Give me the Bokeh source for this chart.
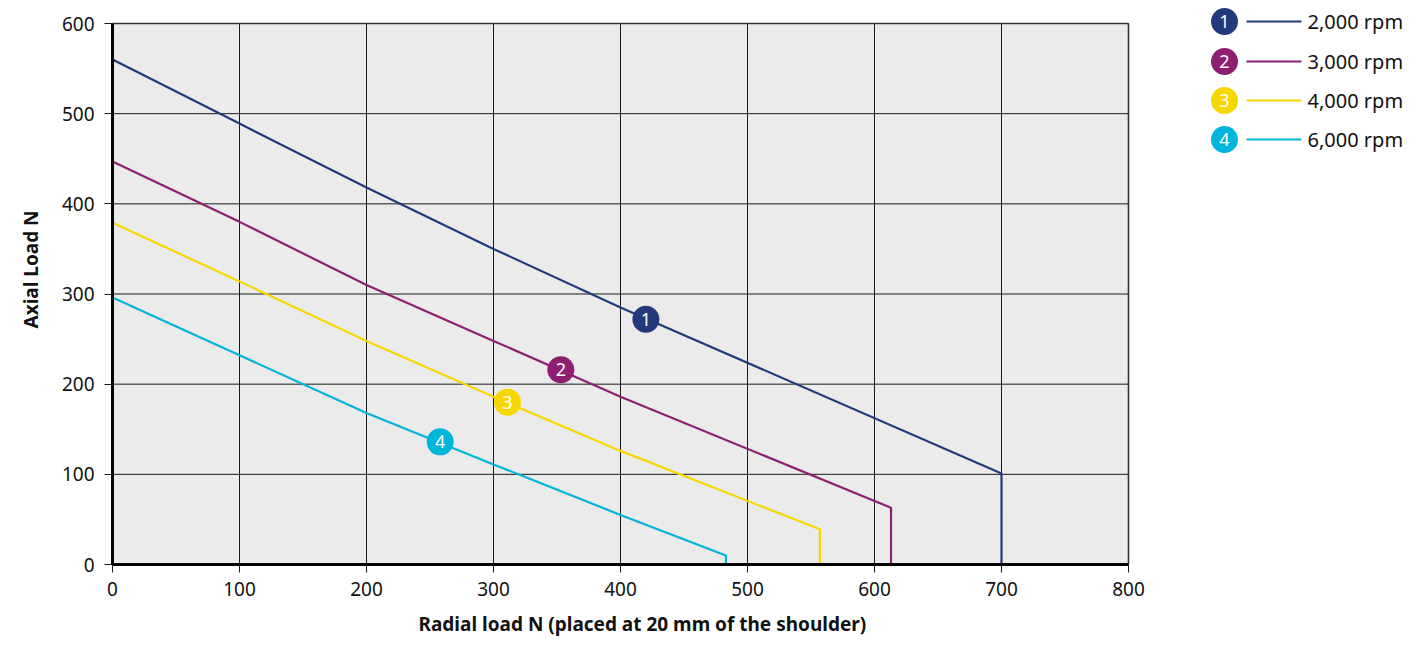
from bokeh.plotting import figure
from bokeh.models import Range1d, FixedTicker, Title
from bokeh.embed import file_html
from bokeh.resources import INLINE
from bokeh.core.properties import value

# ---- data ----
series_numbers = ["1", "2", "3", "4"]
series_labels = ["2,000 rpm", "3,000 rpm", "4,000 rpm", "6,000 rpm"]
series_colors = ["#24397b", "#8e1f70", "#f6d800", "#00b5dc"]

radial_1 = [0, 100, 200, 300, 400, 700, 700]
axial_1 = [560, 489, 418, 350, 285, 101, 0]
radial_2 = [0, 100, 200, 300, 400, 613, 613]
axial_2 = [447, 380, 310, 248, 186, 63, 0]
radial_3 = [0, 100, 200, 300, 400, 557, 557]
axial_3 = [379, 314, 248, 186, 126, 39, 0]
radial_4 = [0, 100, 200, 300, 400, 483, 483]
axial_4 = [296, 232, 168, 111, 55, 10, 0]

marker_radial = [420, 353, 311, 258]
marker_axial = [272, 216, 180, 136]

x_ticks = [0, 100, 200, 300, 400, 500, 600, 700, 800]
y_ticks = [0, 100, 200, 300, 400, 500, 600]

x_title = "Radial load N (placed at 20 mm of the shoulder)"
y_title = "Axial Load N"

FONT = "Noto Sans"

# ---- layout constants (pixels) ----
FRAME_W, FRAME_H = 1302, 564      # frame also hosts the legend on the right
PLOT_W, PLOT_H = 1016, 541        # the grey plotting area
x_end = x_ticks[-1] * FRAME_W / PLOT_W
y_end = y_ticks[-1] * FRAME_H / PLOT_H

p = figure(frame_width=FRAME_W, frame_height=FRAME_H, output_backend="svg",
           toolbar_location=None,
           x_range=Range1d(0, x_end), y_range=Range1d(0, y_end),
           min_border_left=112, min_border_right=0, min_border_top=0,
           min_border_bottom=83)
p.background_fill_color = "white"
p.border_fill_color = "white"
p.outline_line_color = None
p.xgrid.visible = False
p.ygrid.visible = False

x0, x1 = x_ticks[0], x_ticks[-1]
y0, y1 = y_ticks[0], y_ticks[-1]

# grey plotting area
p.quad(left=[x0], right=[x1], bottom=[y0], top=[y1],
       fill_color="#ebebeb", line_color=None, level="image")

# grid lines limited to the plotting area
p.segment(x_ticks, [y0] * len(x_ticks), x_ticks, [y1] * len(x_ticks),
          line_color="#1a1a1a", line_width=1, level="underlay")
p.segment([x0] * len(y_ticks), y_ticks, [x1] * len(y_ticks), y_ticks,
          line_color="#1a1a1a", line_width=1, level="underlay")
# slightly heavier frame on top / right
p.segment([x0, x1], [y1, y0], [x1, x1], [y1, y1], line_color="#333333",
          line_width=1.6, level="underlay")

p.xaxis.ticker = FixedTicker(ticks=x_ticks)
p.yaxis.ticker = FixedTicker(ticks=y_ticks)
p.xaxis.bounds = (x0, x1)
p.yaxis.bounds = (y0, y1)
for ax in (p.xaxis, p.yaxis):
    ax.axis_line_color = "black"
    ax.axis_line_width = 3
    ax.major_tick_line_color = "#1a1a1a"
    ax.major_tick_line_width = 1
    ax.major_tick_out = 8
    ax.major_tick_in = 0
    ax.minor_tick_line_color = None
    ax.major_label_text_font = FONT
    ax.major_label_text_font_size = "19px"
    ax.major_label_text_color = "#111111"
p.xaxis.major_label_standoff = 9
p.yaxis.major_label_standoff = 10

# axis titles as side titles (aligned to the grey plotting area, not the whole frame)
p.add_layout(Title(text=x_title, align="left", offset=306, standoff=21,
                   text_font=FONT, text_font_style="bold", text_font_size="19px",
                   text_color="#111111"), "below")
p.add_layout(Title(text=y_title, align="left", offset=236, standoff=30,
                   text_font=FONT, text_font_style="bold", text_font_size="19px",
                   text_color="#111111"), "left")

series = [(radial_1, axial_1), (radial_2, axial_2), (radial_3, axial_3), (radial_4, axial_4)]
for (xs, ys), c in zip(series, series_colors):
    p.line(xs, ys, line_color=c, line_width=2.2)

p.scatter(marker_radial, marker_axial, size=27, fill_color=series_colors,
          line_color=None, marker="circle")
p.text(marker_radial, marker_axial, text=series_numbers, text_color="white",
       text_font=value(FONT), text_font_size="18px", text_align="center",
       text_baseline="middle")

# ---- legend (pixel coordinates inside the frame, y downward) ----
p.extra_x_ranges = {"px": Range1d(0, FRAME_W)}
p.extra_y_ranges = {"px": Range1d(FRAME_H, 0)}
leg_y = [21, 61, 100, 139]
leg_circle_x = 1112
leg_line_x0, leg_line_x1, leg_text_x = 1134, 1189, 1195
n = len(series_labels)
p.scatter([leg_circle_x] * n, leg_y, size=27, fill_color=series_colors, line_color=None,
          x_range_name="px", y_range_name="px")
p.text([leg_circle_x] * n, leg_y, text=series_numbers, text_color="white",
       text_font=value(FONT), text_font_size="18px", text_align="center",
       text_baseline="middle", x_range_name="px", y_range_name="px")
p.segment([leg_line_x0] * n, leg_y, [leg_line_x1] * n, leg_y, line_color=series_colors,
          line_width=2, x_range_name="px", y_range_name="px")
p.text([leg_text_x] * n, leg_y, text=series_labels, text_color="#111111",
       text_font=value(FONT), text_font_size="20px", text_align="left",
       text_baseline="middle", x_range_name="px", y_range_name="px")

open("out.html", "w").write(file_html(p, INLINE))
